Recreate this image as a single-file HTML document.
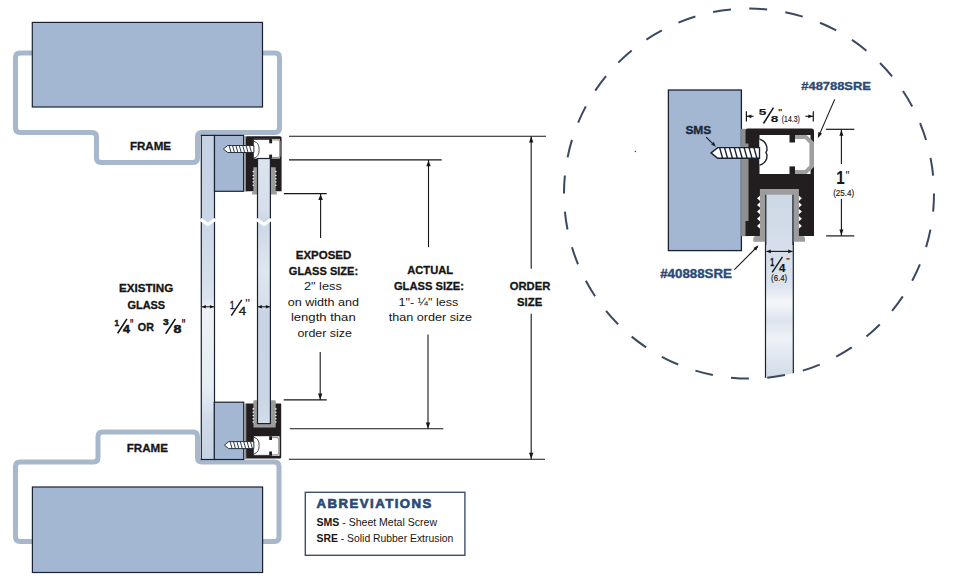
<!DOCTYPE html>
<html><head><meta charset="utf-8"><style>
html,body{margin:0;padding:0;background:#fff;}
svg{display:block;}
text{font-family:"Liberation Sans",sans-serif;}
</style></head><body>
<svg width="954" height="587" viewBox="0 0 954 587">
<rect width="954" height="587" fill="#fff"/>
<defs>
<linearGradient id="gl" gradientUnits="userSpaceOnUse" x1="0" y1="135.4" x2="0" y2="459.5">
<stop offset="0" stop-color="#c4d2e3"/><stop offset="0.25" stop-color="#c9d6e6"/><stop offset="0.5" stop-color="#d9e2ed"/>
<stop offset="0.53" stop-color="#eef2f7"/><stop offset="0.78" stop-color="#e6ecf3"/><stop offset="0.88" stop-color="#cfdae8"/><stop offset="1" stop-color="#c4d2e3"/>
</linearGradient>
<linearGradient id="glr" gradientUnits="userSpaceOnUse" x1="0" y1="158.5" x2="0" y2="423.6">
<stop offset="0" stop-color="#dce4ee"/><stop offset="0.2" stop-color="#d5deea"/><stop offset="0.24" stop-color="#cbd7e6"/><stop offset="0.42" stop-color="#dfe6ef"/>
<stop offset="0.55" stop-color="#d6dfeb"/><stop offset="0.58" stop-color="#c7d4e4"/><stop offset="0.9" stop-color="#c9d6e6"/><stop offset="1" stop-color="#d3ddea"/>
</linearGradient>
<linearGradient id="gl2" gradientUnits="userSpaceOnUse" x1="0" y1="194.7" x2="0" y2="394.7">
<stop offset="0" stop-color="#cdd8e5"/><stop offset="0.45" stop-color="#dbe3ee"/><stop offset="0.54" stop-color="#f4f6fa"/><stop offset="0.63" stop-color="#dde4ee"/><stop offset="0.72" stop-color="#eef2f7"/><stop offset="0.92" stop-color="#d0dae7"/><stop offset="1" stop-color="#d0dae7"/>
</linearGradient>
<clipPath id="circ"><circle cx="749" cy="193.6" r="185"/></clipPath>
</defs>
<path d="M32 53 L20.00 53.00 Q15.5 53 15.50 57.50 L15.50 128.00 Q15.5 132.5 20.00 132.50 L92.00 132.50 Q96.5 132.5 96.50 137.00 L96.50 158.00 Q96.5 162.5 101.00 162.50 L193.00 162.50 Q197.5 162.5 197.50 158.00 L197.50 137.00 Q197.5 132.5 202.00 132.50 L275.00 132.50 Q279.5 132.5 279.50 128.00 L279.50 57.50 Q279.5 53 275.00 53.00 L262 53" fill="none" stroke="#a8b8cc" stroke-width="5"/>
<path d="M147.75 432.0 L193.00 432.00 Q197.5 432 197.50 436.50 L197.50 457.50 Q197.5 462 202.00 462.00 L274.50 462.00 Q279 462 279.00 466.50 L279.00 537.00 Q279 541.5 274.50 541.50 L20.00 541.50 Q15.5 541.5 15.50 537.00 L15.50 466.50 Q15.5 462 20.00 462.00 L93.50 462.00 Q98 462 98.00 457.50 L98.00 436.50 Q98 432 102.50 432.00 Z" fill="none" stroke="#a8b8cc" stroke-width="5"/>
<rect x="32.3" y="22.4" width="230.2" height="84.6" fill="#a3b7d3" stroke="#1a2231" stroke-width="1.2"/>
<rect x="32.4" y="487" width="230.2" height="85.5" fill="#a3b7d3" stroke="#1a2231" stroke-width="1.2"/>
<rect x="201.3" y="135.4" width="13.2" height="324.1" fill="url(#gl)" stroke="#1a2231" stroke-width="1.2"/>
<rect x="214.5" y="135.4" width="29.1" height="55.9" fill="#a3b7d3" stroke="#1a2231" stroke-width="1.2"/>
<rect x="214.3" y="402.2" width="29.4" height="57.3" fill="#a3b7d3" stroke="#1a2231" stroke-width="1.2"/>
<rect x="244.3" y="136.2" width="3" height="55.3" fill="#8f8f90"/><path d="M246 137.7 Q246 136.2 247.5 136.2 H280 Q281.6 136.2 281.6 137.7 V191.3 H246 Z" fill="#221e1f"/><rect x="253.9" y="138.9" width="25.8" height="19.6" fill="#fff"/><rect x="253.9" y="138.9" width="16" height="0.9" fill="#1a2231"/><rect x="269.2" y="138.9" width="2.9" height="4.4" fill="#221e1f"/><rect x="269.2" y="154.6" width="2.9" height="3.9" fill="#221e1f"/><path d="M272.1 139.3 H278.6 L280.6 141.3 V156.3 L278.6 158.3 H272.1 V157 H278.2 L279.2 156 V141.6 L278.2 140.6 H272.1 Z" fill="#9a9a9a"/><path d="M253.9 141.2 Q259.4 143 259.1 149.8 Q259.4 156.6 253.9 158.2" fill="#fff" stroke="#1a2231" stroke-width="0.8"/><path d="M253.4 167.3 H257.7 V194.5 H251.9 Q251.6 192.6 253.4 191.3 Z" fill="#9c9c9c"/><path d="M270.3 167.3 H275.7 V191.3 Q277.4 192.6 277 194.5 H270.3 Z" fill="#9c9c9c"/><circle cx="253.3" cy="171.6" r="0.8" fill="#fff"/><circle cx="275.8" cy="171.6" r="0.8" fill="#fff"/><circle cx="253.3" cy="175.5" r="0.8" fill="#fff"/><circle cx="275.8" cy="175.5" r="0.8" fill="#fff"/><circle cx="253.3" cy="178.7" r="0.8" fill="#fff"/><circle cx="275.8" cy="178.7" r="0.8" fill="#fff"/><circle cx="253.3" cy="182" r="0.8" fill="#fff"/><circle cx="275.8" cy="182" r="0.8" fill="#fff"/><circle cx="253.3" cy="185.3" r="0.8" fill="#fff"/><circle cx="275.8" cy="185.3" r="0.8" fill="#fff"/><path d="M223.4 149 L227.74 145.50 H253.9 V152.50 H227.74 Z" fill="#fff" stroke="#1a2231" stroke-width="0.9"/><line x1="229.10" y1="145.50" x2="231.06" y2="152.50" stroke="#1a2231" stroke-width="0.9"/><line x1="232.50" y1="145.50" x2="234.46" y2="152.50" stroke="#1a2231" stroke-width="0.9"/><line x1="235.90" y1="145.50" x2="237.86" y2="152.50" stroke="#1a2231" stroke-width="0.9"/><line x1="239.30" y1="145.50" x2="241.26" y2="152.50" stroke="#1a2231" stroke-width="0.9"/><line x1="242.70" y1="145.50" x2="244.66" y2="152.50" stroke="#1a2231" stroke-width="0.9"/><line x1="246.10" y1="145.50" x2="248.06" y2="152.50" stroke="#1a2231" stroke-width="0.9"/><line x1="249.50" y1="145.50" x2="251.46" y2="152.50" stroke="#1a2231" stroke-width="0.9"/>
<rect x="244.3" y="403.5" width="3" height="55.5" fill="#8f8f90"/><path d="M246.3 403.5 H281.2 V457 Q281.2 458.5 279.7 458.5 H247.8 Q246.3 458.5 246.3 457 Z" fill="#221e1f"/><path d="M254.4 400.2 H274.7 Q275.7 400.2 275.7 401.2 V427.5 H253.4 V401.2 Q253.4 400.2 254.4 400.2 Z" fill="#9c9c9c"/><circle cx="253.3" cy="408.9" r="0.8" fill="#fff"/><circle cx="275.8" cy="408.9" r="0.8" fill="#fff"/><circle cx="253.3" cy="412.2" r="0.8" fill="#fff"/><circle cx="275.8" cy="412.2" r="0.8" fill="#fff"/><circle cx="253.3" cy="415.5" r="0.8" fill="#fff"/><circle cx="275.8" cy="415.5" r="0.8" fill="#fff"/><circle cx="253.3" cy="418.7" r="0.8" fill="#fff"/><circle cx="275.8" cy="418.7" r="0.8" fill="#fff"/><circle cx="253.3" cy="422" r="0.8" fill="#fff"/><circle cx="275.8" cy="422" r="0.8" fill="#fff"/><rect x="253.9" y="436.2" width="25.6" height="19.6" fill="#fff"/><rect x="253.9" y="454.9" width="16" height="0.9" fill="#1a2231"/><rect x="269.2" y="436.2" width="2.8" height="3.8" fill="#221e1f"/><rect x="269.2" y="451.5" width="2.8" height="4.3" fill="#221e1f"/><path d="M272 436.6 H277.6 L279.6 438.6 V453.6 L277.6 455.6 H272 V454.2 H277.2 L278.2 453.2 V439 L277.2 438 H272 Z" fill="#9a9a9a"/><path d="M253.9 437.2 Q259.4 438.8 259.1 445.4 Q259.4 452.2 253.9 454" fill="#fff" stroke="#1a2231" stroke-width="0.8"/><path d="M224.4 445.1 L228.74 441.60 H253.9 V448.60 H228.74 Z" fill="#fff" stroke="#1a2231" stroke-width="0.9"/><line x1="230.10" y1="441.60" x2="232.06" y2="448.60" stroke="#1a2231" stroke-width="0.9"/><line x1="233.50" y1="441.60" x2="235.46" y2="448.60" stroke="#1a2231" stroke-width="0.9"/><line x1="236.90" y1="441.60" x2="238.86" y2="448.60" stroke="#1a2231" stroke-width="0.9"/><line x1="240.30" y1="441.60" x2="242.26" y2="448.60" stroke="#1a2231" stroke-width="0.9"/><line x1="243.70" y1="441.60" x2="245.66" y2="448.60" stroke="#1a2231" stroke-width="0.9"/><line x1="247.10" y1="441.60" x2="249.06" y2="448.60" stroke="#1a2231" stroke-width="0.9"/><line x1="250.50" y1="441.60" x2="252.46" y2="448.60" stroke="#1a2231" stroke-width="0.9"/>
<rect x="257.5" y="158.5" width="12.9" height="265.1" fill="url(#glr)" stroke="#1a2231" stroke-width="1.2"/>
<path d="M200.5 219.3 L207.9 224.5 L215.3 219.3" fill="none" stroke="#fff" stroke-width="3.3"/>
<path d="M256.7 219.3 L263.95 224.5 L271.2 219.3" fill="none" stroke="#fff" stroke-width="3.3"/>
<line x1="289" y1="136.2" x2="546" y2="136.2" stroke="#161616" stroke-width="1.1"/>
<line x1="531.2" y1="136.2" x2="531.2" y2="268.7" stroke="#161616" stroke-width="1.1"/>
<path d="M531.20 136.60 L533.40 142.60 L529.00 142.60 Z" fill="#161616"/>
<line x1="531.2" y1="313.7" x2="531.2" y2="459.2" stroke="#161616" stroke-width="1.1"/>
<path d="M531.20 458.80 L529.00 452.80 L533.40 452.80 Z" fill="#161616"/>
<line x1="288.8" y1="459.2" x2="545" y2="459.2" stroke="#161616" stroke-width="1.1"/>
<line x1="289" y1="159.9" x2="441.7" y2="159.9" stroke="#161616" stroke-width="1.1"/>
<line x1="428.5" y1="160" x2="428.5" y2="247.2" stroke="#161616" stroke-width="1.1"/>
<path d="M428.50 160.30 L430.70 166.30 L426.30 166.30 Z" fill="#161616"/>
<line x1="428" y1="334.6" x2="428" y2="428.8" stroke="#161616" stroke-width="1.1"/>
<path d="M428.00 428.40 L425.80 422.40 L430.20 422.40 Z" fill="#161616"/>
<line x1="289.8" y1="428.8" x2="443.3" y2="428.8" stroke="#161616" stroke-width="1.1"/>
<line x1="283.8" y1="193.6" x2="326.7" y2="193.6" stroke="#161616" stroke-width="1.1"/>
<line x1="320.6" y1="193.6" x2="320.6" y2="238" stroke="#161616" stroke-width="1.1"/>
<path d="M320.60 194.00 L322.80 200.00 L318.40 200.00 Z" fill="#161616"/>
<line x1="320.2" y1="352" x2="320.2" y2="400" stroke="#161616" stroke-width="1.1"/>
<path d="M320.20 399.60 L318.00 393.60 L322.40 393.60 Z" fill="#161616"/>
<line x1="283.7" y1="399.9" x2="326.8" y2="399.9" stroke="#161616" stroke-width="1.1"/>
<line x1="202" y1="306.8" x2="214" y2="306.8" stroke="#161616" stroke-width="1"/>
<path d="M201.90 306.80 L205.90 305.00 L205.90 308.60 Z" fill="#161616"/>
<path d="M213.90 306.80 L209.90 308.60 L209.90 305.00 Z" fill="#161616"/>
<line x1="258" y1="306.8" x2="270" y2="306.8" stroke="#161616" stroke-width="1"/>
<path d="M257.90 306.80 L261.90 305.00 L261.90 308.60 Z" fill="#161616"/>
<path d="M269.90 306.80 L265.90 308.60 L265.90 305.00 Z" fill="#161616"/>
<text x="129.9" y="149.6" font-size="11.8" font-weight="bold" fill="#161616" stroke="#161616" stroke-width="0.3" textLength="41.2" lengthAdjust="spacingAndGlyphs">FRAME</text>
<text x="126.8" y="451.7" font-size="11.8" font-weight="bold" fill="#161616" stroke="#161616" stroke-width="0.3" textLength="41.2" lengthAdjust="spacingAndGlyphs">FRAME</text>
<text x="119" y="292.3" font-size="10.6" font-weight="bold" fill="#161616" stroke="#161616" stroke-width="0.3" textLength="54.3" lengthAdjust="spacingAndGlyphs">EXISTING</text>
<text x="127.4" y="308.7" font-size="10.6" font-weight="bold" fill="#161616" stroke="#161616" stroke-width="0.3" textLength="37.8" lengthAdjust="spacingAndGlyphs">GLASS</text>
<text x="137.8" y="331.1" font-size="11" font-weight="bold" fill="#161616" stroke="#161616" stroke-width="0.3" textLength="16.1" lengthAdjust="spacingAndGlyphs">OR</text>
<text transform="matrix(0.8085 0 0 0.9130 114.61 326.20)" font-size="10" font-weight="bold" fill="#161616" stroke="#161616" stroke-width="0.548">1</text>
<line x1="117.7" y1="333.2" x2="126.9" y2="318.9" stroke="#161616" stroke-width="1.6"/>
<text transform="matrix(1.2453 0 0 1.1449 123.05 333.20)" font-size="10" font-weight="bold" fill="#161616" stroke="#161616" stroke-width="0.437">4</text>
<text transform="matrix(0.8235 0 0 1.4400 129.82 329.34)" font-size="10" font-weight="bold" fill="#161616">&quot;</text>
<text transform="matrix(1.0200 0 0 0.8873 162.90 325.11)" font-size="10" font-weight="bold" fill="#161616" stroke="#161616" stroke-width="0.563">3</text>
<line x1="165.7" y1="333.7" x2="175.4" y2="318.9" stroke="#161616" stroke-width="1.6"/>
<text transform="matrix(1.4200 0 0 1.1127 173.47 333.09)" font-size="10" font-weight="bold" fill="#161616" stroke="#161616" stroke-width="0.449">8</text>
<text transform="matrix(0.8824 0 0 1.4400 181.38 329.34)" font-size="10" font-weight="bold" fill="#161616">&quot;</text>
<text transform="matrix(0.8837 0 0 1.1304 229.69 308.50)" font-size="10" font-weight="normal" fill="#161616" stroke="#161616" stroke-width="0.310">1</text>
<line x1="231.3" y1="315.6" x2="241.8" y2="299.8" stroke="#161616" stroke-width="1.5"/>
<text transform="matrix(1.3333 0 0 1.0882 238.83 314.81)" font-size="10" font-weight="normal" fill="#161616" stroke="#161616" stroke-width="0.322">4</text>
<text transform="matrix(1.3333 0 0 1.2273 245.37 307.97)" font-size="10" font-weight="normal" fill="#161616">&quot;</text>
<text x="295.8" y="259.2" font-size="11.2" font-weight="bold" fill="#161616" stroke="#161616" stroke-width="0.3" textLength="55.5" lengthAdjust="spacingAndGlyphs">EXPOSED</text>
<text x="288.8" y="275" font-size="11.2" font-weight="bold" fill="#161616" stroke="#161616" stroke-width="0.3" textLength="69.3" lengthAdjust="spacingAndGlyphs">GLASS SIZE:</text>
<text x="303.9" y="290" font-size="11.5" font-weight="normal" fill="#161616" textLength="38" lengthAdjust="spacingAndGlyphs">2" less</text>
<text x="287.7" y="305.7" font-size="11.5" font-weight="normal" fill="#161616" textLength="71.2" lengthAdjust="spacingAndGlyphs">on width and</text>
<text x="290.9" y="321.1" font-size="11.5" font-weight="normal" fill="#161616" textLength="64.8" lengthAdjust="spacingAndGlyphs">length than</text>
<text x="297.4" y="336.5" font-size="11.5" font-weight="normal" fill="#161616" textLength="54.6" lengthAdjust="spacingAndGlyphs">order size</text>
<text x="407.2" y="273.6" font-size="11.2" font-weight="bold" fill="#161616" stroke="#161616" stroke-width="0.3" textLength="46" lengthAdjust="spacingAndGlyphs">ACTUAL</text>
<text x="393.9" y="289.5" font-size="11.2" font-weight="bold" fill="#161616" stroke="#161616" stroke-width="0.3" textLength="70.1" lengthAdjust="spacingAndGlyphs">GLASS SIZE:</text>
<text x="398.5" y="305.5" font-size="11.5" font-weight="normal" fill="#161616" textLength="59.7" lengthAdjust="spacingAndGlyphs">1"- ¼" less</text>
<text x="388.7" y="320.6" font-size="11.5" font-weight="normal" fill="#161616" textLength="83.4" lengthAdjust="spacingAndGlyphs">than order size</text>
<text x="509.8" y="289.6" font-size="11.4" font-weight="bold" fill="#161616" stroke="#161616" stroke-width="0.3" textLength="40.5" lengthAdjust="spacingAndGlyphs">ORDER</text>
<text x="517" y="305.6" font-size="11.4" font-weight="bold" fill="#161616" stroke="#161616" stroke-width="0.3" textLength="25.2" lengthAdjust="spacingAndGlyphs">SIZE</text>
<rect x="305.3" y="492.3" width="159.6" height="63" fill="#fff" stroke="#3d5068" stroke-width="1.4"/>
<text x="316.5" y="507.9" font-size="13.2" font-weight="bold" fill="#2b4a75" stroke="#2b4a75" stroke-width="0.65" textLength="114.9" lengthAdjust="spacing">ABREVIATIONS</text>
<text x="316.5" y="526.2" font-size="10.2" fill="#161616" textLength="120.5" lengthAdjust="spacingAndGlyphs"><tspan font-weight="bold">SMS</tspan> - Sheet Metal Screw</text>
<text x="316.5" y="542.1" font-size="10.2" fill="#161616" textLength="136.8" lengthAdjust="spacingAndGlyphs"><tspan font-weight="bold">SRE</tspan> - Solid Rubber Extrusion</text>
<g clip-path="url(#circ)"><rect x="765.5" y="194.7" width="27.8" height="200" fill="url(#gl2)" stroke="#1a2231" stroke-width="1.2"/></g>
<rect x="668.4" y="90" width="73" height="160.6" fill="#a3b7d3" stroke="#1a2231" stroke-width="1.3"/>
<rect x="741.1" y="128.8" width="7.2" height="107.4" fill="#8f8f90"/>
<path d="M745.5 131 Q745.5 128.5 748 128.5 H811.5 Q814 128.5 814 131 V236 H745.5 V221 H748.3 V143.5 H745.5 Z" fill="#221e1f"/>
<rect x="759.5" y="135" width="51" height="39" fill="#fff"/>
<rect x="789.5" y="135" width="5.5" height="7.5" fill="#221e1f"/>
<rect x="789.5" y="166.4" width="5.5" height="7.6" fill="#221e1f"/>
<path d="M795 135 H806.5 L814 142 V167 L806.5 174 H795 V170.1 H805 L809.4 165.5 V143.5 L805 138.9 H795 Z" fill="#a0a0a0"/>
<path d="M759.5 139.1 Q767.3 141.5 767 150.2 L765.9 152.6 L767 155 Q767.3 163 759.5 165.2" fill="#fff" stroke="#1a2231" stroke-width="1.4"/>
<path d="M711.1 152.9 L717.67 147.60 H759.5 V158.20 H717.67 Z" fill="#fff" stroke="#1a2231" stroke-width="1.4"/><line x1="719.63" y1="147.60" x2="722.60" y2="158.20" stroke="#1a2231" stroke-width="1.4"/><line x1="724.53" y1="147.60" x2="727.50" y2="158.20" stroke="#1a2231" stroke-width="1.4"/><line x1="729.43" y1="147.60" x2="732.40" y2="158.20" stroke="#1a2231" stroke-width="1.4"/><line x1="734.33" y1="147.60" x2="737.30" y2="158.20" stroke="#1a2231" stroke-width="1.4"/><line x1="739.23" y1="147.60" x2="742.20" y2="158.20" stroke="#1a2231" stroke-width="1.4"/><line x1="744.13" y1="147.60" x2="747.10" y2="158.20" stroke="#1a2231" stroke-width="1.4"/><line x1="749.03" y1="147.60" x2="752.00" y2="158.20" stroke="#1a2231" stroke-width="1.4"/><line x1="753.93" y1="147.60" x2="756.90" y2="158.20" stroke="#1a2231" stroke-width="1.4"/>
<path d="M759.9 188.9 H798.9 V236 H803 Q805 236 805 238.5 V241.7 H753.3 V238.5 Q753.3 236 755.5 236 H759.9 Z" fill="#9c9c9c"/>
<rect x="765.8" y="194.7" width="27.1" height="50" fill="url(#gl2)"/>
<line x1="765.8" y1="194.7" x2="765.8" y2="245" stroke="#1a2231" stroke-width="1.2"/>
<line x1="792.9" y1="194.7" x2="792.9" y2="245" stroke="#1a2231" stroke-width="1.2"/>
<path d="M760 195.70000000000002 L757 198.3 L760 200.9 Z" fill="#fff"/>
<path d="M798.9 195.70000000000002 L801.9 198.3 L798.9 200.9 Z" fill="#fff"/>
<path d="M760 202.3 L757 204.9 L760 207.5 Z" fill="#fff"/>
<path d="M798.9 202.3 L801.9 204.9 L798.9 207.5 Z" fill="#fff"/>
<path d="M760 209.0 L757 211.6 L760 214.2 Z" fill="#fff"/>
<path d="M798.9 209.0 L801.9 211.6 L798.9 214.2 Z" fill="#fff"/>
<path d="M760 216.1 L757 218.7 L760 221.29999999999998 Z" fill="#fff"/>
<path d="M798.9 216.1 L801.9 218.7 L798.9 221.29999999999998 Z" fill="#fff"/>
<path d="M760 223.3 L757 225.9 L760 228.5 Z" fill="#fff"/>
<path d="M798.9 223.3 L801.9 225.9 L798.9 228.5 Z" fill="#fff"/>
<circle cx="635.4" cy="151.5" r="0.7" fill="#333"/>
<circle cx="749" cy="193.6" r="185" fill="none" stroke="#3a4860" stroke-width="2" stroke-dasharray="18 18.32"/>
<line x1="746.4" y1="111.2" x2="746.4" y2="121.5" stroke="#161616" stroke-width="1.2"/>
<line x1="746.4" y1="116.3" x2="753.6" y2="116.3" stroke="#161616" stroke-width="1.1"/>
<path d="M746.90 116.30 L751.40 114.40 L751.40 118.20 Z" fill="#161616"/>
<line x1="813.3" y1="111.2" x2="813.3" y2="121.5" stroke="#161616" stroke-width="1.2"/>
<line x1="805.3" y1="116.3" x2="813.3" y2="116.3" stroke="#161616" stroke-width="1.1"/>
<path d="M812.80 116.30 L808.30 118.20 L808.30 114.40 Z" fill="#161616"/>
<text transform="matrix(1.3600 0 0 0.9571 758.69 115.40)" font-size="10" font-weight="bold" fill="#161616" stroke="#161616" stroke-width="0.157">5</text>
<line x1="763.5" y1="123.5" x2="773.5" y2="107.6" stroke="#161616" stroke-width="1.5"/>
<text transform="matrix(1.3600 0 0 0.9577 770.69 121.80)" font-size="10" font-weight="bold" fill="#161616" stroke="#161616" stroke-width="0.104">8</text>
<text transform="matrix(0.9118 0 0 0.9600 778.06 115.42)" font-size="10" font-weight="bold" fill="#161616">&quot;</text>
<text x="781.8" y="121.8" font-size="8.6" font-weight="normal" fill="#161616" stroke="#161616" stroke-width="0.15" textLength="18" lengthAdjust="spacingAndGlyphs">(14.3)</text>
<text x="801.3" y="89.7" font-size="11.6" font-weight="bold" fill="#2b4a75" stroke="#2b4a75" stroke-width="0.35" textLength="69.6" lengthAdjust="spacingAndGlyphs">#48788SRE</text>
<line x1="834.7" y1="99.4" x2="818.6" y2="136.4" stroke="#161616" stroke-width="1.1"/>
<path d="M817.80 138.20 L818.36 131.90 L822.03 133.50 Z" fill="#161616"/>
<line x1="826.1" y1="129.3" x2="854.3" y2="129.3" stroke="#161616" stroke-width="1.2"/>
<line x1="826.1" y1="235.9" x2="854.3" y2="235.9" stroke="#161616" stroke-width="1.2"/>
<line x1="841.4" y1="129.3" x2="841.4" y2="164" stroke="#161616" stroke-width="1.1"/>
<line x1="841.4" y1="198.7" x2="841.4" y2="235.9" stroke="#161616" stroke-width="1.1"/>
<path d="M841.40 129.80 L843.40 135.80 L839.40 135.80 Z" fill="#161616"/>
<path d="M841.40 235.40 L839.40 229.40 L843.40 229.40 Z" fill="#161616"/>
<text transform="matrix(1.5106 0 0 1.8696 836.29 184.30)" font-size="10" font-weight="bold" fill="#161616" stroke="#161616" stroke-width="0.053">1</text>
<text transform="matrix(1.1111 0 0 1.2273 845.56 180.27)" font-size="10" font-weight="normal" fill="#161616">&quot;</text>
<text x="833.2" y="196.2" font-size="8.6" font-weight="normal" fill="#161616" stroke="#161616" stroke-width="0.15" textLength="21" lengthAdjust="spacingAndGlyphs">(25.4)</text>
<line x1="766.5" y1="251.4" x2="792.5" y2="251.4" stroke="#161616" stroke-width="1.1"/>
<path d="M766.30 251.40 L770.80 249.60 L770.80 253.20 Z" fill="#161616"/>
<path d="M792.70 251.40 L788.20 253.20 L788.20 249.60 Z" fill="#161616"/>
<text transform="matrix(0.7021 0 0 1.0870 770.28 265.50)" font-size="10" font-weight="bold" fill="#161616" stroke="#161616" stroke-width="0.276">1</text>
<line x1="772.2" y1="272.3" x2="782.5" y2="256.9" stroke="#161616" stroke-width="1.4"/>
<text transform="matrix(1.1509 0 0 1.0290 779.07 271.50)" font-size="10" font-weight="bold" fill="#161616" stroke="#161616" stroke-width="0.146">4</text>
<text transform="matrix(0.8235 0 0 0.8000 785.92 263.12)" font-size="10" font-weight="bold" fill="#161616">&quot;</text>
<text x="771.1" y="280.6" font-size="8.4" font-weight="normal" fill="#161616" stroke="#161616" stroke-width="0.15" textLength="16" lengthAdjust="spacingAndGlyphs">(6.4)</text>
<text x="801.3" y="89.7" font-size="1" font-weight="bold" fill="#161616"></text>
<text x="685.4" y="133.6" font-size="11" font-weight="bold" fill="#1c2a3a" stroke="#1c2a3a" stroke-width="0.35" textLength="25.9" lengthAdjust="spacingAndGlyphs">SMS</text>
<line x1="706.1" y1="137.1" x2="714.5" y2="145.3" stroke="#161616" stroke-width="1.1"/>
<path d="M715.90 146.70 L711.04 144.46 L713.76 141.80 Z" fill="#1c2a3a"/>
<text x="660.2" y="277.9" font-size="12" font-weight="bold" fill="#2b4a75" stroke="#2b4a75" stroke-width="0.35" textLength="71.8" lengthAdjust="spacingAndGlyphs">#40888SRE</text>
<line x1="734.4" y1="269.6" x2="757.5" y2="246.5" stroke="#161616" stroke-width="1.1"/>
<path d="M758.60 245.30 L756.18 250.59 L753.43 247.97 Z" fill="#161616"/>
</svg></body></html>
